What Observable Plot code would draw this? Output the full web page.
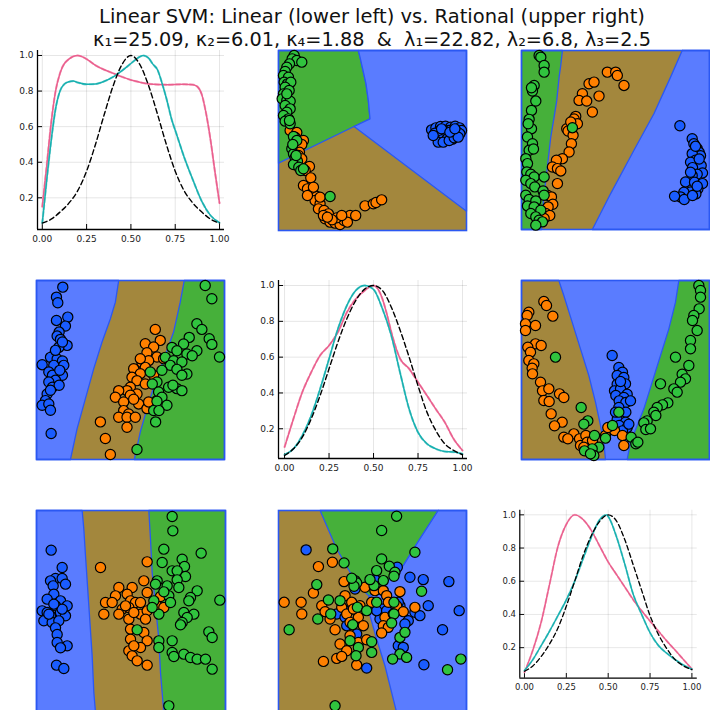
<!DOCTYPE html>
<html><head><meta charset="utf-8">
<script src="https://cdn.jsdelivr.net/npm/d3@7"></script>
<script src="https://cdn.jsdelivr.net/npm/@observablehq/plot@0.6"></script>
<style>
body{margin:0;background:#fff;}
#root{position:relative;width:710px;height:710px;overflow:hidden;font-family:"DejaVu Sans",sans-serif;background:#fff;}
.title{position:absolute;left:272px;width:200px;text-align:center;white-space:nowrap;line-height:22px;color:#111;display:flex;justify-content:center;}
.panel{position:absolute;}
</style></head><body><div id="root">
<div class="title" style="top:6px;font-size:19.5px"><span>Linear SVM: Linear (lower left) vs. Rational (upper right)</span></div>
<div class="title" style="top:29px;font-size:19.3px"><span>κ₁=25.09, κ₂=6.01, κ₄=1.88&nbsp;&nbsp;&amp;&nbsp;&nbsp;λ₁=22.82, λ₂=6.8, λ₃=2.5</span></div>
</div>
<script>
// ---------- tick labels ----------
const xTicks = [0, 0.25, 0.5, 0.75, 1];
const yTicks = [0.2, 0.4, 0.6, 0.8, 1.0];

// ---------- diagonal densities ----------
const d11Pink = [[0,0.15],[0.025,0.38],[0.05,0.62],[0.075,0.8],[0.1,0.9],[0.15,0.98],[0.2,1.0],[0.25,0.98],[0.3,0.945],[0.35,0.92],[0.4,0.9],[0.45,0.88],[0.5,0.862],[0.55,0.85],[0.6,0.84],[0.7,0.836],[0.8,0.838],[0.85,0.836],[0.875,0.825],[0.9,0.78],[0.925,0.67],[0.95,0.52],[0.975,0.34],[1,0.17]];
const d11Teal = [[0,0.058],[0.025,0.3],[0.05,0.52],[0.075,0.7],[0.1,0.8],[0.125,0.84],[0.15,0.852],[0.175,0.856],[0.2,0.848],[0.25,0.838],[0.3,0.84],[0.35,0.855],[0.4,0.88],[0.45,0.915],[0.5,0.955],[0.55,0.993],[0.57,1.0],[0.6,0.985],[0.625,0.95],[0.65,0.92],[0.677,0.84],[0.7,0.76],[0.733,0.63],[0.75,0.58],[0.8,0.43],[0.85,0.3],[0.9,0.18],[0.95,0.1],[1,0.06]];
const d11Black = [[0,0.058],[0.05,0.08],[0.1,0.12],[0.15,0.17],[0.2,0.24],[0.25,0.35],[0.3,0.5],[0.35,0.67],[0.4,0.83],[0.45,0.95],[0.5,1.0],[0.55,0.95],[0.6,0.83],[0.65,0.67],[0.7,0.5],[0.75,0.35],[0.8,0.24],[0.85,0.17],[0.9,0.12],[0.95,0.08],[1,0.058]];

const d22Pink = [[0,0.098],[0.05,0.256],[0.1,0.405],[0.15,0.516],[0.2,0.61],[0.25,0.665],[0.3,0.74],[0.35,0.85],[0.4,0.925],[0.45,0.972],[0.5,1.0],[0.525,0.98],[0.55,0.925],[0.575,0.84],[0.6,0.74],[0.65,0.59],[0.7,0.535],[0.75,0.46],[0.8,0.386],[0.85,0.31],[0.9,0.237],[0.95,0.144],[1,0.079]];
const d22Teal = [[0,0.055],[0.05,0.088],[0.1,0.163],[0.15,0.274],[0.2,0.423],[0.25,0.59],[0.3,0.758],[0.35,0.888],[0.4,0.972],[0.45,1.0],[0.5,0.978],[0.55,0.87],[0.6,0.72],[0.65,0.51],[0.7,0.31],[0.75,0.18],[0.8,0.116],[0.85,0.088],[0.9,0.073],[0.95,0.07],[1,0.06]];
const d22Black = [[0,0.051],[0.05,0.088],[0.1,0.153],[0.15,0.256],[0.2,0.386],[0.25,0.535],[0.3,0.684],[0.35,0.814],[0.4,0.916],[0.45,0.98],[0.5,1.0],[0.55,0.972],[0.6,0.879],[0.65,0.749],[0.7,0.6],[0.75,0.44],[0.8,0.293],[0.85,0.19],[0.9,0.116],[0.95,0.079],[1,0.055]];

const d33Pink = [[0,0.052],[0.05,0.185],[0.1,0.355],[0.15,0.583],[0.2,0.81],[0.25,0.943],[0.3,1.0],[0.35,0.972],[0.4,0.905],[0.45,0.81],[0.5,0.716],[0.55,0.64],[0.6,0.564],[0.65,0.488],[0.7,0.422],[0.75,0.36],[0.8,0.30],[0.85,0.24],[0.9,0.185],[0.95,0.128],[1,0.071]];
const d33Teal = [[0,0.062],[0.05,0.128],[0.1,0.213],[0.15,0.30],[0.2,0.393],[0.25,0.488],[0.3,0.60],[0.35,0.735],[0.4,0.867],[0.45,0.972],[0.49,1.0],[0.5,0.99],[0.55,0.867],[0.6,0.7],[0.65,0.52],[0.7,0.4],[0.75,0.29],[0.8,0.213],[0.85,0.166],[0.9,0.128],[0.95,0.095],[1,0.071]];
const d33Black = [[0,0.058],[0.05,0.09],[0.1,0.147],[0.15,0.223],[0.2,0.318],[0.25,0.45],[0.3,0.60],[0.35,0.754],[0.4,0.877],[0.45,0.962],[0.5,1.0],[0.55,0.962],[0.6,0.848],[0.65,0.697],[0.7,0.545],[0.75,0.393],[0.8,0.28],[0.85,0.194],[0.9,0.128],[0.95,0.09],[1,0.067]];

// ---------- scatter panels (feature units of each panel) ----------
// panel row1/col2 (rational)
const p12Green = [[72,45],[66,55],[80,60],[95,65],[58,70],[50,80],[45,93],[40,105],[55,110],[42,125],[52,130],[62,125],[45,140],[57,150],[40,160],[36,175],[50,180],[60,182],[45,195],[60,205],[50,215],[40,225],[55,235],[45,242],[60,250],[70,288],[80,300],[65,325],[70,340],[75,352],[82,362],[70,372],[86,380],[92,390],[100,385],[180,468],[78,345],[68,312],[58,240],[50,160]];
const p12Orange = [[60,270],[80,276],[75,290],[100,300],[95,312],[88,335],[85,345],[95,355],[118,378],[105,390],[122,412],[100,435],[112,445],[128,455],[140,468],[135,480],[112,465],[150,490],[145,505],[162,510],[175,520],[165,535],[180,545],[195,548],[210,552],[222,540],[240,525],[257,525],[232,545],[285,496],[310,490],[318,486],[335,478],[200,532],[186,538],[160,525],[150,470],[130,440],[172,530],[215,525]];
const p12Blue = [[485,268],[498,262],[512,258],[527,257],[542,260],[556,257],[569,262],[575,270],[563,275],[550,272],[537,270],[522,270],[508,272],[495,278],[502,290],[516,285],[530,283],[545,283],[558,285],[570,280],[517,298],[532,295],[548,296],[505,305],[520,305],[538,300],[553,292],[565,290],[490,285],[515,265],[540,275],[555,265]];
const p12GreenRegion = [[25,30],[265,30],[270,50],[278,85],[288,130],[295,180],[300,235],[252,258],[25,368]];
const p12BlueRegion = [[265,30],[590,30],[590,512],[252,258],[300,235],[295,180],[288,130],[278,85],[270,50]];

// panel row1/col3 (rational)
const p13Green = [[85,45],[90,50],[100,75],[100,95],[70,135],[65,152],[75,182],[62,210],[55,237],[62,265],[50,290],[65,310],[55,330],[68,326],[45,355],[50,370],[48,395],[60,402],[70,410],[100,410],[45,420],[60,430],[72,440],[97,452],[100,465],[45,465],[55,478],[75,482],[50,497],[70,500],[90,510],[60,520],[75,530],[85,540],[95,545],[75,555],[185,262],[62,142],[52,250]];
const p13Orange = [[290,95],[315,95],[320,105],[340,135],[235,130],[250,125],[215,160],[205,180],[228,182],[265,167],[245,215],[195,228],[190,236],[168,265],[172,272],[187,285],[182,310],[175,335],[155,355],[137,360],[125,380],[140,385],[150,392],[140,430],[110,465],[122,470],[126,492],[112,500],[105,520],[117,526],[90,526],[100,535],[200,250],[180,245]];
const p13Blue = [[508,256],[545,295],[550,310],[560,325],[566,336],[570,346],[545,340],[555,360],[540,366],[572,376],[546,382],[576,398],[560,402],[545,406],[525,425],[552,426],[576,430],[562,446],[540,455],[556,461],[520,456],[510,470],[492,468],[521,478],[546,466],[560,438],[540,396],[566,356],[555,318]];
const p13GreenRegion = [[32,30],[155,30],[150,75],[145,110],[138,180],[130,230],[120,290],[112,360],[105,420],[98,480],[92,568],[32,568]];
const p13BlueRegion = [[515,30],[597,30],[597,568],[245,568],[300,460],[370,330],[430,220],[480,110]];

// panel row2/col3 (rational)
const p23Orange = [[100,78],[108,90],[55,110],[50,120],[127,122],[45,145],[75,150],[45,165],[75,205],[92,210],[52,215],[60,230],[55,255],[70,265],[65,278],[66,295],[90,320],[96,346],[115,340],[100,375],[116,378],[147,355],[160,366],[122,415],[155,440],[132,451],[160,485],[190,475],[172,490],[207,490],[226,480],[210,510],[230,500],[246,495],[220,515],[285,480],[312,465],[336,480],[340,510],[292,456]];
const p23Green = [[565,30],[570,45],[570,65],[566,100],[550,120],[546,135],[560,165],[540,195],[540,220],[495,245],[535,270],[515,296],[525,310],[510,320],[490,340],[500,350],[450,325],[472,382],[456,388],[440,396],[430,410],[436,420],[410,436],[400,442],[406,462],[420,460],[135,245],[212,396],[232,436],[220,446],[325,410],[306,450],[252,480],[285,488],[265,515],[245,520],[250,540],[362,485],[376,505],[382,500],[222,526],[240,535]];
const p23Blue = [[305,240],[325,276],[336,290],[320,300],[340,306],[345,325],[320,326],[312,346],[330,340],[350,356],[316,360],[340,366],[326,376],[346,381],[360,376],[325,396],[346,410],[320,432],[345,440],[326,450],[350,456],[336,466],[355,446],[330,318],[315,410]];
const p23BrownRegion = [[33,15],[145,15],[160,60],[185,140],[210,220],[235,300],[255,380],[270,450],[280,500],[285,552],[33,552]];
const p23GreenRegion = [[505,15],[597,15],[597,552],[350,552],[360,500],[380,450],[400,400],[425,320],[450,240],[475,160],[495,80]];

// panel row2/col1 (linear)
const p21Blue = [[97,35],[78,65],[82,82],[112,125],[78,135],[105,152],[86,170],[80,182],[90,192],[110,210],[85,216],[96,200],[70,240],[60,246],[80,251],[96,257],[35,268],[70,270],[100,270],[55,290],[66,300],[96,300],[75,315],[55,320],[66,336],[86,330],[50,356],[60,345],[45,376],[35,390],[55,386],[60,405],[62,475],[75,225],[88,285]];
const p21Orange = [[375,162],[390,195],[345,205],[370,215],[350,232],[380,245],[400,250],[335,262],[355,256],[345,276],[310,280],[330,295],[370,300],[305,306],[320,316],[345,326],[300,336],[290,346],[265,346],[320,356],[300,360],[255,366],[280,380],[325,386],[350,400],[280,406],[295,416],[265,426],[290,426],[315,426],[210,440],[290,456],[225,490],[240,538],[380,376],[355,380],[310,372],[330,250]];
const p21Green = [[525,30],[545,70],[500,145],[515,162],[537,190],[545,207],[477,186],[460,206],[425,216],[440,226],[500,226],[470,236],[486,241],[405,246],[430,256],[455,260],[420,270],[440,282],[395,285],[470,296],[455,300],[380,320],[366,326],[415,336],[440,340],[455,346],[385,350],[395,366],[380,378],[410,390],[370,406],[386,406],[376,440],[568,245],[320,523],[428,330],[360,290]];
const p21BlueRegion = [[18,15],[265,15],[255,80],[240,130],[215,200],[190,280],[165,370],[140,460],[120,553],[18,553]];
const p21GreenRegion = [[462,15],[583,15],[583,553],[312,553],[330,470],[350,400],[375,320],[405,240],[430,170],[450,80]];

// panel row3/col1 (linear)
const p31Blue = [[62,133],[95,185],[75,218],[95,218],[105,235],[60,225],[68,240],[70,265],[50,280],[90,285],[75,300],[110,300],[35,315],[50,320],[90,320],[105,330],[60,330],[40,345],[65,350],[85,345],[75,366],[80,386],[80,410],[110,420],[90,426],[78,478],[100,488],[55,325],[95,310],[70,295]];
const p31Orange = [[210,185],[350,168],[340,225],[265,245],[305,245],[255,270],[290,265],[350,260],[225,290],[245,290],[300,285],[315,290],[275,310],[295,305],[330,290],[265,325],[220,325],[295,340],[330,325],[350,315],[310,320],[380,300],[400,305],[345,340],[300,370],[340,380],[300,400],[350,405],[330,425],[295,435],[305,450],[320,465],[350,478],[310,420],[390,272],[285,300]];
const p31Green = [[425,32],[427,75],[400,130],[395,170],[455,160],[462,182],[512,142],[425,195],[440,195],[465,212],[440,222],[380,225],[410,240],[445,245],[500,255],[480,275],[475,285],[415,270],[420,290],[370,285],[385,325],[365,305],[460,320],[490,325],[470,335],[455,350],[450,357],[320,372],[425,405],[385,405],[385,425],[425,440],[430,452],[460,445],[480,455],[500,460],[525,460],[545,490],[535,378],[545,395],[568,283],[415,600],[375,235],[400,258]];
const p31BlueRegion = [[18,14],[155,14],[160,70],[165,150],[175,300],[185,450],[190,560],[195,620],[18,620]];
const p31GreenRegion = [[355,14],[585,14],[585,620],[400,620],[390,500],[385,400],[375,300],[365,200],[360,100]];

// panel row3/col2 (linear)
const p32Blue = [[108,133],[315,222],[420,215],[460,222],[537,228],[382,185],[475,300],[568,315],[518,372],[435,320],[450,330],[415,345],[405,355],[330,340],[335,310],[320,315],[200,325],[225,335],[245,310],[260,385],[290,487],[462,477],[385,420],[400,425],[350,315],[390,300],[230,360],[255,250],[385,290]];
const p32Orange = [[145,183],[187,170],[222,228],[130,262],[42,290],[93,290],[95,325],[155,300],[165,318],[180,340],[215,305],[225,270],[245,290],[230,325],[265,335],[285,245],[315,255],[340,255],[350,270],[390,258],[355,290],[380,300],[400,318],[435,305],[345,335],[370,325],[340,360],[355,365],[335,382],[280,360],[240,350],[195,372],[210,415],[230,435],[240,390],[265,410],[290,402],[200,458],[215,452],[160,467],[260,478],[250,310],[305,290],[270,300]];
const p32Green = [[380,32],[335,75],[188,130],[222,172],[335,160],[358,182],[375,200],[372,212],[320,195],[255,225],[260,232],[340,225],[312,240],[252,242],[140,237],[175,283],[182,325],[143,340],[262,305],[290,315],[320,290],[372,290],[372,325],[365,352],[435,140],[455,257],[305,408],[305,440],[265,425],[258,450],[240,405],[390,395],[405,380],[390,445],[410,455],[368,460],[57,372],[533,492],[573,460],[195,600],[248,357],[210,285],[300,222],[245,218]];
const p32GreenRegion = [[150,15],[505,15],[450,100],[400,180],[340,240],[298,272],[280,255],[240,200],[200,130]];
const p32BlueRegion = [[505,15],[590,15],[590,620],[380,620],[345,480],[320,400],[300,330],[296,275],[298,272],[340,240],[400,180],[450,100]];

// ---------- styling ----------
const C = {
  regBlue: "#5a7cff", regBrown: "#a3873d", regGreen: "#46b03a", edge: "#2b58f2",
  ptBlue: "#1a5cff", ptOrange: "#ff8000", ptGreen: "#30c43e",
  pink: "#ea5f8e", teal: "#17b0b0", pinkLight: "#f6b3c8", tealLight: "#97dada"
};
const root = document.getElementById("root");
const baseStyle = {background: "transparent", fontFamily: "DejaVu Sans, sans-serif", fontSize: "9px", color: "#222", overflow: "visible"};

function place(svg, left, top) {
  const d = document.createElement("div");
  d.className = "panel"; d.style.left = left + "px"; d.style.top = top + "px";
  d.appendChild(svg); root.appendChild(d);
}

function scatterPanel({left, top, xd, yd, base, regions, points}) {
  const w = Math.round((xd[1] - xd[0]) / 3), h = Math.round((yd[1] - yd[0]) / 3);
  const marks = [Plot.frame({fill: base})];
  for (const r of regions) {
    const closed = r.pts.concat([r.pts[0]]);
    marks.push(Plot.line(closed, {x: d => d[0], y: d => d[1], fill: r.color, stroke: C.edge, strokeWidth: 1.3, curve: "linear"}));
  }
  marks.push(Plot.frame({stroke: C.edge, strokeWidth: 1.6}));
  for (const p of points) {
    marks.push(Plot.dot(p.pts, {x: d => d[0], y: d => d[1], r: 5.1, fill: p.color, stroke: "#000", strokeWidth: 1.2}));
  }
  const svg = Plot.plot({
    width: w, height: h, margin: 0,
    x: {domain: xd, axis: null}, y: {domain: yd, axis: null, reverse: true},
    style: baseStyle, marks
  });
  place(svg, left, top);
}

function diagPanel({left, top, w, h, xd, yd, pink, teal, black}) {
  const ml = 30, mr = 14, mt = 5, mb = 22;
  const P = (data, o) => Plot.line(data, {x: d => d[0], y: d => d[1], curve: "monotone-x", ...o});
  const svg = Plot.plot({
    width: w + ml + mr, height: h + mt + mb,
    marginLeft: ml, marginRight: mr, marginTop: mt, marginBottom: mb,
    x: {domain: xd}, y: {domain: yd},
    style: baseStyle,
    marks: [
      Plot.ruleX(xTicks, {x: d => d, stroke: "#000", strokeOpacity: 0.1}),
      Plot.ruleY(yTicks, {y: d => d, stroke: "#000", strokeOpacity: 0.1}),
      Plot.axisX({ticks: xTicks, tickFormat: d3.format(".2f"), tickSize: 0, tickPadding: 6}),
      Plot.axisY({ticks: yTicks, tickFormat: d3.format(".1f"), tickSize: 0, tickPadding: 4}),
      Plot.tickX(xTicks, {x: d => d, stroke: "#000", insetTop: h - 5}),
      Plot.tickY(yTicks, {y: d => d, stroke: "#000", insetRight: w - 5}),
      Plot.ruleX([xd[0]], {stroke: "#000", strokeWidth: 1.3}),
      Plot.ruleY([yd[0]], {stroke: "#000", strokeWidth: 1.3}),
      P(pink, {stroke: C.pinkLight, strokeWidth: 2.2, strokeDasharray: "4,3"}),
      P(teal, {stroke: C.tealLight, strokeWidth: 2.2, strokeDasharray: "4,3"}),
      P(pink, {stroke: C.pink, strokeWidth: 1.5}),
      P(teal, {stroke: C.teal, strokeWidth: 1.5}),
      P(black, {stroke: "#000", strokeWidth: 1.4, strokeDasharray: "5,3"})
    ]
  });
  place(svg, left - ml, top - mt);
}

diagPanel({left: 37, top: 50, w: 187, h: 179, xd: [-0.027, 1.028], yd: [0.022, 1.028], pink: d11Pink, teal: d11Teal, black: d11Black});
diagPanel({left: 278, top: 280, w: 189, h: 178, xd: [-0.034, 1.028], yd: [0.034, 1.028], pink: d22Pink, teal: d22Teal, black: d22Black});
diagPanel({left: 521, top: 510, w: 188, h: 178, xd: [-0.028, 1.032], yd: [0.016, 1.028], pink: d33Pink, teal: d33Teal, black: d33Black});

const pts = (b, o, g) => [{pts: b, color: C.ptBlue}, {pts: o, color: C.ptOrange}, {pts: g, color: C.ptGreen}];
scatterPanel({left: 278, top: 50, xd: [25, 590], yd: [30, 570], base: C.regBrown,
  regions: [{pts: p12GreenRegion, color: C.regGreen}, {pts: p12BlueRegion, color: C.regBlue}], points: pts(p12Blue, p12Orange, p12Green)});
scatterPanel({left: 521, top: 50, xd: [32, 597], yd: [30, 568], base: C.regBrown,
  regions: [{pts: p13GreenRegion, color: C.regGreen}, {pts: p13BlueRegion, color: C.regBlue}], points: pts(p13Blue, p13Orange, p13Green)});
scatterPanel({left: 521, top: 280, xd: [33, 597], yd: [15, 552], base: C.regBlue,
  regions: [{pts: p23BrownRegion, color: C.regBrown}, {pts: p23GreenRegion, color: C.regGreen}], points: pts(p23Blue, p23Orange, p23Green)});
scatterPanel({left: 36, top: 280, xd: [18, 583], yd: [15, 553], base: C.regBrown,
  regions: [{pts: p21BlueRegion, color: C.regBlue}, {pts: p21GreenRegion, color: C.regGreen}], points: pts(p21Blue, p21Orange, p21Green)});
scatterPanel({left: 36, top: 510, xd: [18, 585], yd: [14, 620], base: C.regBrown,
  regions: [{pts: p31BlueRegion, color: C.regBlue}, {pts: p31GreenRegion, color: C.regGreen}], points: pts(p31Blue, p31Orange, p31Green)});
scatterPanel({left: 278, top: 510, xd: [25, 590], yd: [15, 620], base: C.regBrown,
  regions: [{pts: p32GreenRegion, color: C.regGreen}, {pts: p32BlueRegion, color: C.regBlue}], points: pts(p32Blue, p32Orange, p32Green)});
</script>
</body></html>
